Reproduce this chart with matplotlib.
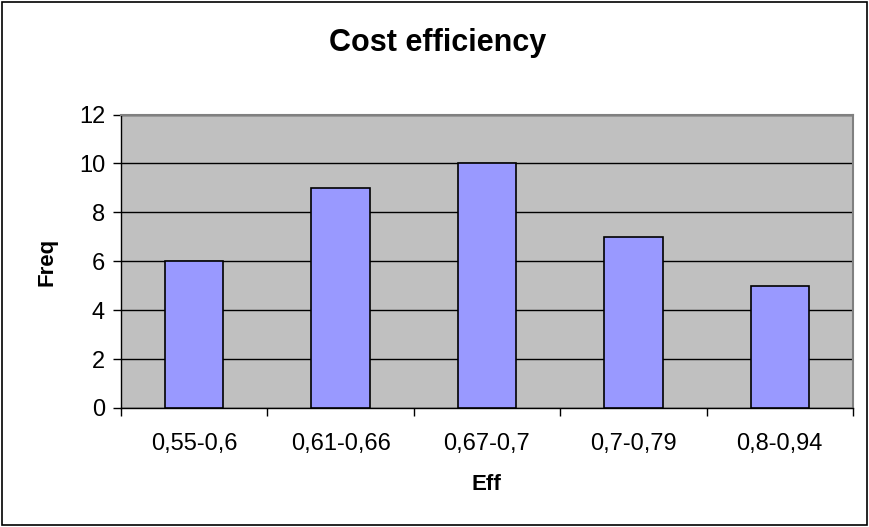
import matplotlib

matplotlib.use("Agg")
import matplotlib.pyplot as plt
from matplotlib.patches import Rectangle

categories = ["0,55-0,6", "0,61-0,66", "0,67-0,7", "0,7-0,79", "0,8-0,94"]
freq = [6, 9, 10, 7, 5]
y_ticks = [0, 2, 4, 6, 8, 10, 12]

plt.rcParams["font.family"] = ["Liberation Sans", "DejaVu Sans"]

fig = plt.figure(figsize=(8.69, 5.27), dpi=100)
# plot area roughly x 121..853 px, y 114.5..408 px
ax = fig.add_axes([121 / 869, 1 - 408 / 527, 732 / 869, 293.5 / 527])

ax.set_facecolor("#C0C0C0")
x = range(len(categories))
ax.bar(x, freq, width=0.40, color="#9999FF", edgecolor="black", linewidth=1.2, zorder=3)

ax.set_xlim(-0.5, len(categories) - 0.5)
ax.set_ylim(0, 12)
ax.set_yticks(y_ticks)
ax.set_xticks(list(x))
ax.set_xticklabels(categories)
ax.set_xticks([i - 0.5 for i in range(len(categories) + 1)], minor=True)
ax.tick_params(axis="x", which="major", length=0, pad=18, labelsize=17)
ax.tick_params(axis="x", which="minor", length=5.5, direction="out", width=1)
ax.tick_params(axis="y", length=5.5, direction="out", width=1, labelsize=17, pad=6)

ax.grid(axis="y", color="black", linewidth=1, zorder=1)
ax.set_axisbelow(True)

for side in ("top", "right"):
    ax.spines[side].set_color("#808080")
    ax.spines[side].set_linewidth(1.5)
for side in ("left", "bottom"):
    ax.spines[side].set_color("black")
    ax.spines[side].set_linewidth(1)

fig.text(486 / 869, 1 - 485 / 527, "Eff", ha="center", va="center",
         fontsize=16, fontweight="bold")
fig.text(47 / 869, 1 - 262 / 527, "Freq", ha="center", va="center",
         rotation=90, fontsize=16, fontweight="bold")
fig.text(438 / 869, 1 - 43 / 527, "Cost efficiency", ha="center", va="center",
         fontsize=22, fontweight="bold")

fig.patches.append(Rectangle((0.002, 0.003), 0.996, 0.994, transform=fig.transFigure,
                             fill=False, edgecolor="black", linewidth=1.2))

fig.savefig("out.png", dpi=100)
